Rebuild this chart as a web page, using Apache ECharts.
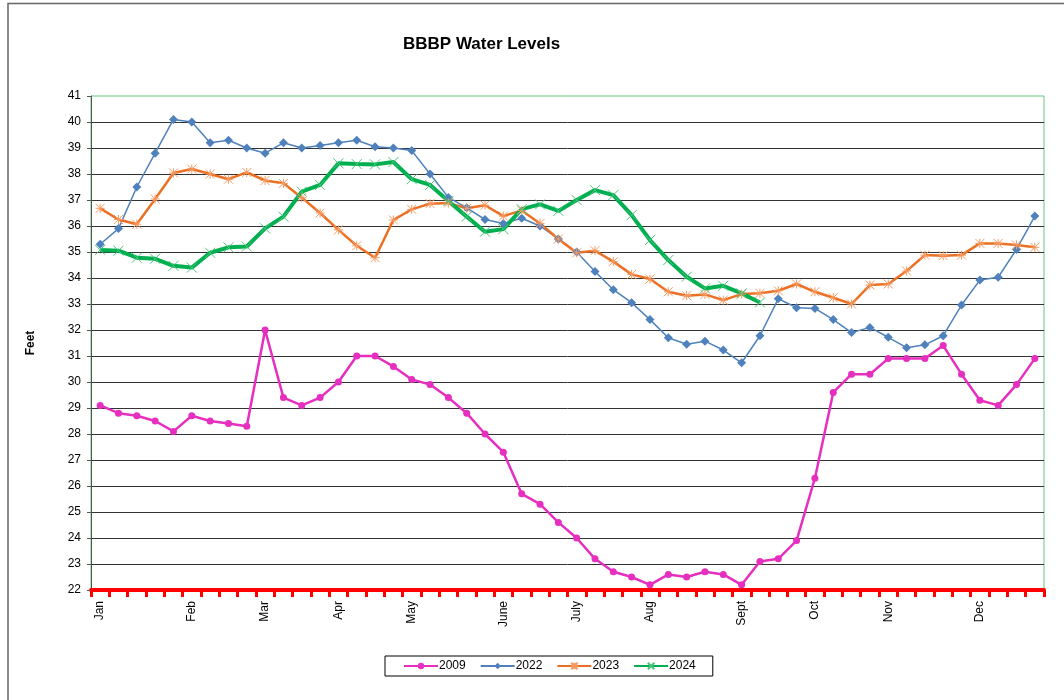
<!DOCTYPE html>
<html>
<head>
<meta charset="utf-8">
<title>BBBP Water Levels</title>
<script src="https://cdn.jsdelivr.net/npm/echarts@6/dist/echarts.min.js"></script>
<style>
  html, body { margin: 0; padding: 0; background: #fff; }
  #chart { width: 1064px; height: 700px; }
</style>
</head>
<body>
<div id="chart"></div>
<script>
// weekly categories, month name on the first week of each month
var weeks = ['Jan', '', '', '', '', 'Feb', '', '', '', 'Mar', '', '', '', 'Apr', '', '', '',
	'May', '', '', '', '', 'June', '', '', '', 'July', '', '', '', 'Aug', '', '', '', '',
	'Sept', '', '', '', 'Oct', '', '', '', 'Nov', '', '', '', '', 'Dec', '', '', ''];

var levels2009 = [29.1, 28.8, 28.7, 28.5, 28.1, 28.7, 28.5, 28.4, 28.3, 32.0, 29.4, 29.1, 29.4,
	30.0, 31.0, 31.0, 30.6, 30.1, 29.9, 29.4, 28.8, 28.0, 27.3, 25.7, 25.3, 24.6, 24.0,
	23.2, 22.7, 22.5, 22.2, 22.6, 22.5, 22.7, 22.6, 22.2, 23.1, 23.2, 23.9, 26.3, 29.6,
	30.3, 30.3, 30.9, 30.9, 30.9, 31.4, 30.3, 29.3, 29.1, 29.9, 30.9];

var levels2022 = [35.3, 35.9, 37.5, 38.8, 40.1, 40.0, 39.2, 39.3, 39.0, 38.8, 39.2, 39.0, 39.1,
	39.2, 39.3, 39.05, 39.0, 38.9, 38.0, 37.1, 36.7, 36.25, 36.1, 36.3, 36.0, 35.5, 35.0,
	34.25, 33.55, 33.05, 32.4, 31.7, 31.45, 31.57, 31.23, 30.74, 31.78, 33.2, 32.86, 32.83,
	32.4, 31.9, 32.1, 31.72, 31.32, 31.43, 31.78, 32.96, 33.92, 34.03, 35.1, 36.38];

var levels2023 = [36.68, 36.25, 36.07, 37.04, 38.04, 38.19, 38.0, 37.8, 38.06, 37.75, 37.64,
	37.09, 36.5, 35.85, 35.24, 34.78, 36.23, 36.64, 36.86, 36.88, 36.68, 36.8, 36.38, 36.6,
	36.1, 35.5, 34.97, 35.05, 34.63, 34.14, 33.96, 33.47, 33.32, 33.37, 33.15, 33.38, 33.41,
	33.51, 33.77, 33.47, 33.24, 33.0, 33.73, 33.77, 34.27, 34.88, 34.86, 34.88, 35.33, 35.33,
	35.27, 35.18];

var levels2024 = [35.08, 35.05, 34.78, 34.74, 34.47, 34.4, 34.97, 35.18, 35.21, 35.91, 36.36,
	37.32, 37.58, 38.41, 38.38, 38.37, 38.46, 37.8, 37.58, 36.96, 36.36, 35.78, 35.88, 36.65,
	36.83, 36.58, 37.0, 37.38, 37.19, 36.42, 35.46, 34.69, 34.05, 33.6, 33.7, 33.41, 33.06];

var chart = echarts.init(document.getElementById('chart'));

var font = '"Liberation Sans", Arial, sans-serif';
var starSymbol = 'path://M0,0L10,10M10,0L0,10M5,0L5,10M0,5L10,5';
var crossSymbol = 'path://M0,0L10,10M10,0L0,10';

var option = {
	animation: false,
	textStyle: { fontFamily: font },
	title: {
		text: 'BBBP Water Levels',
		left: 398,
		top: 31,
		textStyle: { fontSize: 17, fontWeight: 'bold', color: '#000', fontFamily: font }
	},
	legend: {
		left: 385,
		top: 656,
		padding: [4, 17, 4, 18],
		itemGap: 14,
		itemWidth: 34,
		itemHeight: 8,
		borderColor: '#000',
		borderWidth: 1,
		textStyle: { fontSize: 12, color: '#000', padding: [0, 0, 0, -4] },
		data: ['2009', '2022', '2023', '2024']
	},
	grid: {
		left: 91,
		right: 20,
		top: 96,
		bottom: 110,
		show: true,
		borderColor: '#63c77f',
		borderWidth: 1
	},
	xAxis: {
		type: 'category',
		data: weeks,
		boundaryGap: true,
		axisLine: { show: true, lineStyle: { color: '#ff0000', width: 4 } },
		axisTick: { show: true, interval: 0, inside: false, length: 7, lineStyle: { color: '#ff0000', width: 3 } },
		axisLabel: { interval: 0, rotate: 90, margin: 11, fontSize: 12, color: '#000' },
		splitLine: { show: false }
	},
	yAxis: {
		type: 'value',
		name: 'Feet',
		nameLocation: 'middle',
		nameGap: 54,
		nameRotate: 90,
		nameTextStyle: { fontSize: 12, fontWeight: 'bold', color: '#000' },
		min: 22,
		max: 41,
		interval: 1,
		axisLine: { show: true, lineStyle: { color: '#555', width: 1 } },
		axisTick: { show: true, length: 4, lineStyle: { color: '#555' } },
		axisLabel: { fontSize: 12, color: '#000', margin: 10 },
		splitLine: { show: true, showMaxLine: false, lineStyle: { color: '#333', width: 1 } }
	},
	series: [{
		name: '2009',
		type: 'line',
		data: levels2009,
		symbol: 'circle',
		symbolSize: 7,
		color: '#e62fbf',
		lineStyle: { width: 2.5, color: '#e62fbf' },
		itemStyle: { color: '#e62fbf' }
	}, {
		name: '2022',
		type: 'line',
		data: levels2022,
		symbol: 'diamond',
		symbolSize: 9,
		color: '#4f81bd',
		lineStyle: { width: 1.5, color: '#4f81bd' },
		itemStyle: { color: '#4f81bd' }
	}, {
		name: '2023',
		type: 'line',
		data: levels2023,
		symbol: starSymbol,
		symbolSize: 9,
		color: '#ec7023',
		lineStyle: { width: 2.5, color: '#ec7023' },
		itemStyle: { color: '#ec7023', borderColor: '#f59a63', borderWidth: 1 }
	}, {
		name: '2024',
		type: 'line',
		data: levels2024,
		symbol: crossSymbol,
		symbolSize: 10,
		color: '#00b050',
		lineStyle: { width: 4, color: '#00b050' },
		itemStyle: { color: '#00b050', borderColor: '#4cc47a', borderWidth: 1 }
	}],
	graphic: [{
		type: 'polyline',
		shape: { points: [[8, 700], [8, 3.5], [1064, 3.5]] },
		style: { stroke: '#666', lineWidth: 1.5, fill: null }
	}]
};

chart.setOption(option);
</script>
</body>
</html>
